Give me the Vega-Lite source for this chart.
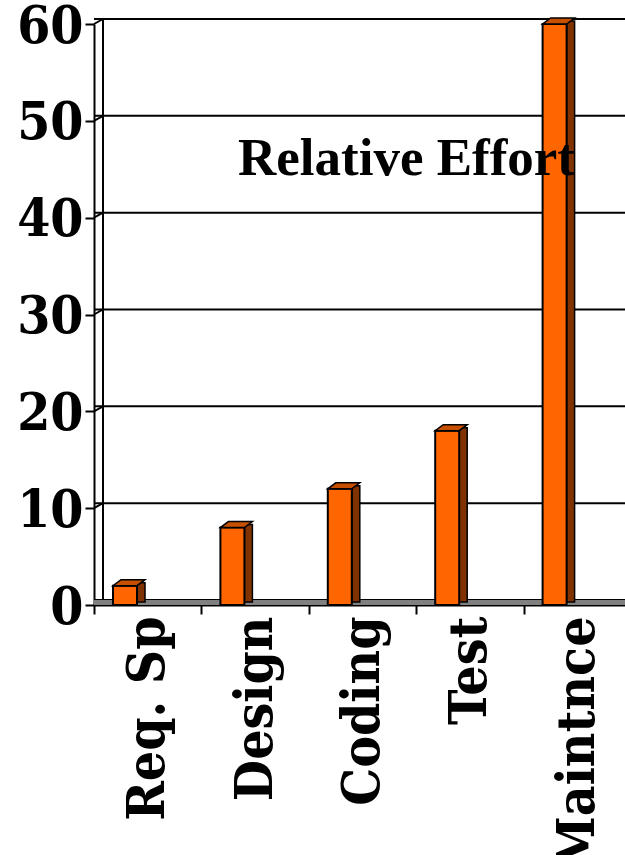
{
  "$schema": "https://vega.github.io/schema/vega-lite/v6.json",
  "width": 531,
  "height": 581,
  "autosize": {"type": "none"},
  "padding": {"left": 94, "top": 24, "right": 0, "bottom": 250},
  "background": "white",
  "config": {"view": {"stroke": null}},
  "datasets": {
    "effort": [
      {"phase": "Req. Sp", "effort": 2},
      {"phase": "Design", "effort": 8},
      {"phase": "Coding", "effort": 12},
      {"phase": "Test", "effort": 18},
      {"phase": "Maintnce", "effort": 60}
    ],
    "ticks": [
      {"v": 0}, {"v": 10}, {"v": 20}, {"v": 30}, {"v": 40}, {"v": 50}, {"v": 60}
    ],
    "title": [{"label": "Relative Effort"}]
  },
  "layer": [
    {
      "data": {"name": "ticks"},
      "mark": {"type": "rule", "color": "#000000", "strokeWidth": 2, "xOffset": 9, "yOffset": -5},
      "encoding": {
        "y": {"field": "v", "type": "quantitative", "scale": {"domain": [0, 60], "nice": false},
          "axis": {"values": [0, 10, 20, 30, 40, 50, 60], "title": null, "grid": false,
            "labelFont": "DejaVu Serif Condensed, DejaVu Serif", "labelFontWeight": "bold", "labelFontSize": 53,
            "labelColor": "#000000", "labelPadding": 2, "labelOffset": 2, "tickSize": 9, "tickColor": "#000000",
            "tickWidth": 2, "domainColor": "#000000", "domainWidth": 2}}
      }
    },
    {
      "data": {"name": "ticks"},
      "mark": {"type": "point", "shape": "M0,0L9,-5", "size": 4, "filled": false, "opacity": 1,
        "stroke": "#000000", "strokeWidth": 2, "xOffset": -53.7},
      "encoding": {
        "x": {"datum": "Req. Sp", "type": "nominal"},
        "y": {"field": "v", "type": "quantitative"}
      }
    },
    {
      "data": {"name": "ticks"},
      "mark": {"type": "rule", "color": "#000000", "strokeWidth": 2, "xOffset": -44.7, "yOffset": -5, "y2Offset": -5},
      "encoding": {
        "x": {"datum": "Req. Sp", "type": "nominal"},
        "y": {"datum": 0, "type": "quantitative"},
        "y2": {"datum": 60}
      }
    },
    {
      "data": {"name": "ticks"},
      "mark": {"type": "rule", "color": "#808080", "strokeWidth": 4, "xOffset": 5, "yOffset": -2.5},
      "encoding": {
        "y": {"datum": 0, "type": "quantitative"}
      }
    },
    {
      "data": {"name": "effort"},
      "mark": {"type": "bar", "width": 8, "color": "#803300", "stroke": "#000000", "strokeWidth": 1.5,
        "xOffset": -6.7, "yOffset": -3, "y2Offset": -3},
      "encoding": {
        "x": {"field": "phase", "type": "nominal"},
        "y": {"field": "effort", "type": "quantitative"}
      }
    },
    {
      "data": {"name": "effort"},
      "mark": {"type": "bar", "width": 24, "color": "#FF6600", "stroke": "#000000", "strokeWidth": 2,
        "xOffset": -22.7},
      "encoding": {
        "x": {"field": "phase", "type": "nominal",
          "sort": ["Req. Sp", "Design", "Coding", "Test", "Maintnce"],
          "scale": {"domain": ["Req. Sp", "Design", "Coding", "Test", "Maintnce"], "range": [0, 537], "paddingInner": 0, "paddingOuter": 0},
          "axis": {"title": null, "labelAngle": -90, "labelFont": "DejaVu Serif Condensed, DejaVu Serif", "labelFontWeight": "bold",
            "labelFontSize": 53, "labelColor": "#000000", "labelPadding": 2, "tickBand": "extent",
            "tickSize": 9, "tickColor": "#000000", "tickWidth": 2, "domainColor": "#000000", "domainWidth": 2,
            "labelOverlap": false, "labelBound": false, "labelLimit": 0}},
        "y": {"field": "effort", "type": "quantitative"}
      }
    },
    {
      "data": {"name": "effort"},
      "mark": {"type": "point", "shape": "M-12,0L12,0L20,-6L-4,-6Z", "size": 4, "filled": true, "opacity": 1,
        "fill": "#C65000", "stroke": "#000000", "strokeWidth": 1.5, "xOffset": -22.7},
      "encoding": {
        "x": {"field": "phase", "type": "nominal"},
        "y": {"field": "effort", "type": "quantitative"}
      }
    },
    {
      "data": {"name": "title"},
      "mark": {"type": "text", "font": "Liberation Serif", "fontWeight": "bold", "fontSize": 53,
        "color": "#000000", "align": "center", "baseline": "alphabetic", "xOffset": 44},
      "encoding": {
        "x": {"datum": "Coding", "type": "nominal"},
        "y": {"datum": 44.4, "type": "quantitative"},
        "text": {"field": "label"}
      }
    }
  ]
}
